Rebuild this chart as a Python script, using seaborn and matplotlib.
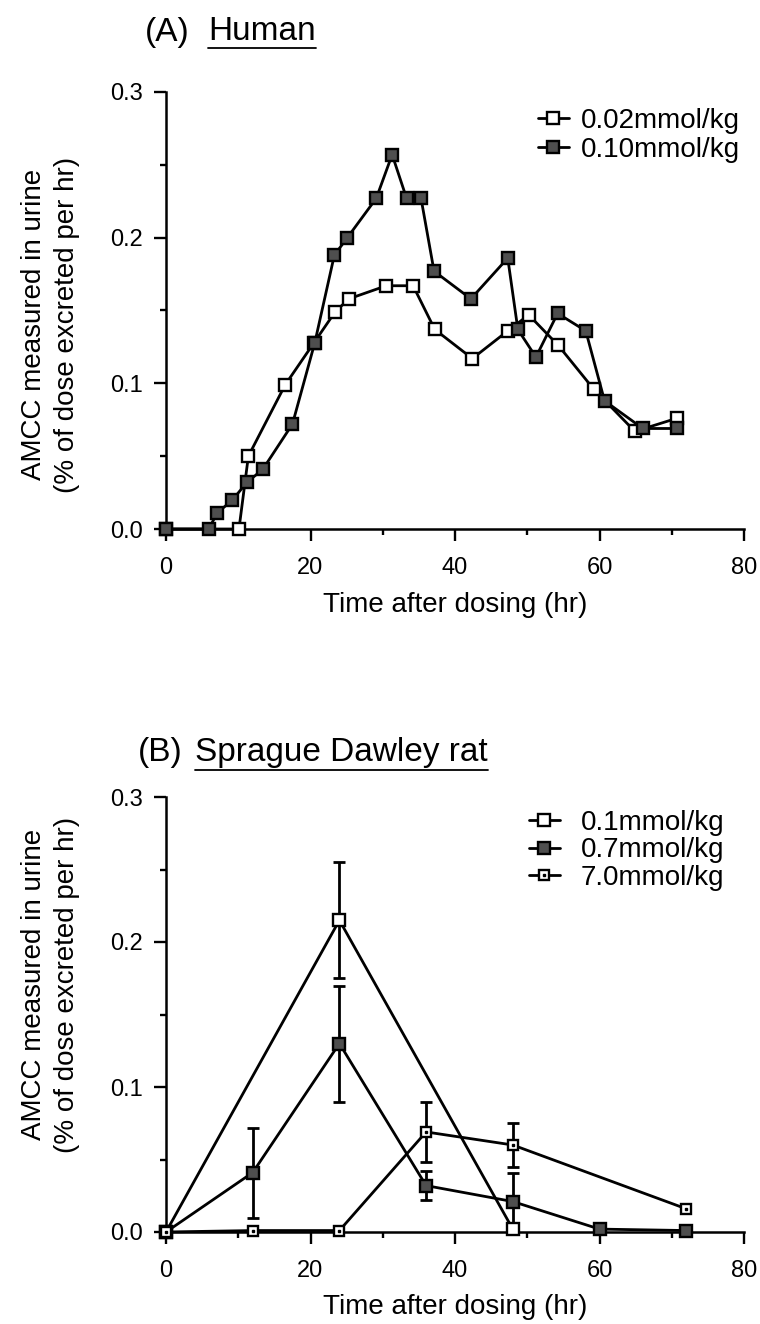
import numpy as np
import pandas as pd
import matplotlib
matplotlib.use("Agg")
import matplotlib.pyplot as plt
import seaborn as sns
from matplotlib.lines import Line2D
from matplotlib.legend_handler import HandlerTuple
from matplotlib.ticker import MultipleLocator, FormatStrFormatter

# ---------------- data ----------------
# Panel A: Human
human_low_t = [0, 10.1, 11.4, 16.5, 20.5, 23.4, 25.3, 30.5, 34.2, 37.2, 42.4, 47.3,
               50.2, 54.3, 59.2, 64.9, 70.7]
human_low_v = [0, 0, 0.050, 0.099, 0.128, 0.149, 0.158, 0.167, 0.167, 0.137, 0.117,
               0.136, 0.147, 0.126, 0.096, 0.067, 0.076]
human_high_t = [0, 5.9, 7.1, 9.2, 11.2, 13.4, 17.5, 20.6, 23.3, 25.1, 29.1, 31.3, 33.3,
                35.3, 37.1, 42.2, 47.3, 48.7, 51.2, 54.2, 58.1, 60.7, 66.0, 70.7]
human_high_v = [0, 0.0, 0.011, 0.020, 0.032, 0.041, 0.072, 0.128, 0.188, 0.200, 0.227,
                0.257, 0.227, 0.227, 0.177, 0.158, 0.186, 0.137, 0.118, 0.148, 0.136,
                0.088, 0.069, 0.069]
human_labels = ["0.02mmol/kg", "0.10mmol/kg"]

# Panel B: Sprague Dawley rat
rat01_t = [0, 24, 48]
rat01_v = [0, 0.215, 0.002]
rat01_e = [0, 0.040, 0]
rat07_t = [0, 12, 24, 36, 48, 60, 72]
rat07_v = [0, 0.041, 0.130, 0.032, 0.021, 0.002, 0.001]
rat07_e = [0, 0.031, 0.040, 0.010, 0.020, 0, 0]
rat70_t = [0, 12, 24, 36, 48, 72]
rat70_v = [0, 0.001, 0.001, 0.069, 0.060, 0.016]
rat70_e = [0, 0, 0, 0.021, 0.015, 0]
rat_labels = ["0.1mmol/kg", "0.7mmol/kg", "7.0mmol/kg"]

x_ticks = [0, 20, 40, 60, 80]
y_ticks = [0.0, 0.1, 0.2, 0.3]

# ---------------- style ----------------
sns.set_theme(style="ticks")
plt.rcParams["font.family"] = ["Liberation Sans", "DejaVu Sans"]
plt.rcParams["text.color"] = "black"
plt.rcParams["axes.labelcolor"] = "black"

W, H = 760, 1324
fig = plt.figure(figsize=(W / 100, H / 100), dpi=100)
fig.patch.set_facecolor("white")


def axrect(x0, x1, ytop, ybot):
    return [x0 / W, 1 - ybot / H, (x1 - x0) / W, (ybot - ytop) / H]


axA = fig.add_axes(axrect(166, 744, 92, 529))
axB = fig.add_axes(axrect(166, 744, 797, 1232))

FILL = "#4e4e4e"
LW = 2.0


def style(ax):
    ax.set_facecolor("white")
    ax.grid(False)
    ax.set_xlim(0, 80)
    ax.set_ylim(0, 0.3)
    sns.despine(ax=ax)
    for s in ["left", "bottom"]:
        ax.spines[s].set_linewidth(1.8)
        ax.spines[s].set_color("black")
    ax.set_xticks(x_ticks)
    ax.set_yticks(y_ticks)
    ax.xaxis.set_minor_locator(MultipleLocator(10))
    ax.yaxis.set_minor_locator(MultipleLocator(0.05))
    ax.yaxis.set_major_formatter(FormatStrFormatter("%.1f"))
    ax.tick_params(which="major", length=8.5, width=1.7, labelsize=17,
                   direction="out", color="black", labelcolor="black")
    ax.tick_params(which="minor", length=4, width=1.7, direction="out", color="black")
    ax.tick_params(axis="x", which="major", pad=12)
    ax.tick_params(axis="y", which="major", pad=8)


def series(ax, t, v, ms, face, z):
    sns.lineplot(x=t, y=v, ax=ax, color="black", lw=LW, marker="s", markersize=ms,
                 markerfacecolor=face, markeredgecolor="black", markeredgewidth=1.7,
                 clip_on=False, legend=False, sort=False, zorder=z, errorbar=None)
    return ax.lines[-1]


def errbars(ax, t, v, e):
    tt = [a for a, c in zip(t, e) if c > 0]
    vv = [b for b, c in zip(v, e) if c > 0]
    ee = [c for c in e if c > 0]
    ax.errorbar(tt, vv, yerr=ee, fmt="none", ecolor="black", elinewidth=LW,
                capsize=4.5, capthick=LW, zorder=2, clip_on=False)


# ---------------- Panel A ----------------
style(axA)
lA1 = series(axA, human_low_t, human_low_v, 8.5, "white", 4)
lA2 = series(axA, human_high_t, human_high_v, 8, FILL, 5)
axA.set_xlabel("Time after dosing (hr)", fontsize=20, labelpad=9)
axA.set_ylabel("AMCC measured in urine\n(% of dose excreted per hr)", fontsize=20,
               linespacing=1.35)
axA.yaxis.set_label_coords(-0.149, 0.467)
axA.legend([lA1, lA2], human_labels, loc="upper left",
           bbox_to_anchor=(538 / W, 1 - 108 / H), bbox_transform=fig.transFigure,
           frameon=False, fontsize=20, handlelength=1.1, handletextpad=0.45,
           labelspacing=0.1, borderpad=0, borderaxespad=0)

# ---------------- Panel B ----------------
style(axB)
errbars(axB, rat01_t, rat01_v, rat01_e)
errbars(axB, rat07_t, rat07_v, rat07_e)
errbars(axB, rat70_t, rat70_v, rat70_e)
lB1 = series(axB, rat01_t, rat01_v, 9, "white", 4)
lB2 = series(axB, rat07_t, rat07_v, 8, FILL, 5)
lB3 = series(axB, rat70_t, rat70_v, 7.5, "white", 6)
dot, = axB.plot(rat70_t, rat70_v, ls="none", marker="s", ms=1.7, color="black",
                zorder=7, clip_on=False)
axB.set_xlabel("Time after dosing (hr)", fontsize=20, labelpad=8)
axB.set_ylabel("AMCC measured in urine\n(% of dose excreted per hr)", fontsize=20,
               linespacing=1.35)
axB.yaxis.set_label_coords(-0.149, 0.568)
axB.legend([lB1, lB2, (lB3, dot)], rat_labels, loc="upper left",
           bbox_to_anchor=(529 / W, 1 - 810 / H), bbox_transform=fig.transFigure,
           handler_map={tuple: HandlerTuple(ndivide=1)},
           frameon=False, fontsize=20, handlelength=1.1, handletextpad=0.75,
           labelspacing=0.05, borderpad=0, borderaxespad=0)

# ---------------- titles ----------------
tA1 = fig.text(145 / W, 1 - 32 / H, "(A)", fontsize=24, va="center", ha="left")
tA2 = fig.text(208 / W, 1 - 32 / H, "Human", fontsize=24, va="center", ha="left")
tB1 = fig.text(138 / W, 1 - 753 / H, "(B)", fontsize=24, va="center", ha="left")
tB2 = fig.text(195 / W, 1 - 753 / H, "Sprague Dawley rat", fontsize=24, va="center",
               ha="left")

fig.canvas.draw()
r = fig.canvas.get_renderer()
for t, yline in [(tA2, 48), (tB2, 770)]:
    bb = t.get_window_extent(r)
    fig.add_artist(Line2D([bb.x0 / W, bb.x1 / W], [1 - yline / H] * 2,
                          transform=fig.transFigure, color="black", lw=1.3))

fig.savefig("out.png", dpi=100, facecolor="white")
